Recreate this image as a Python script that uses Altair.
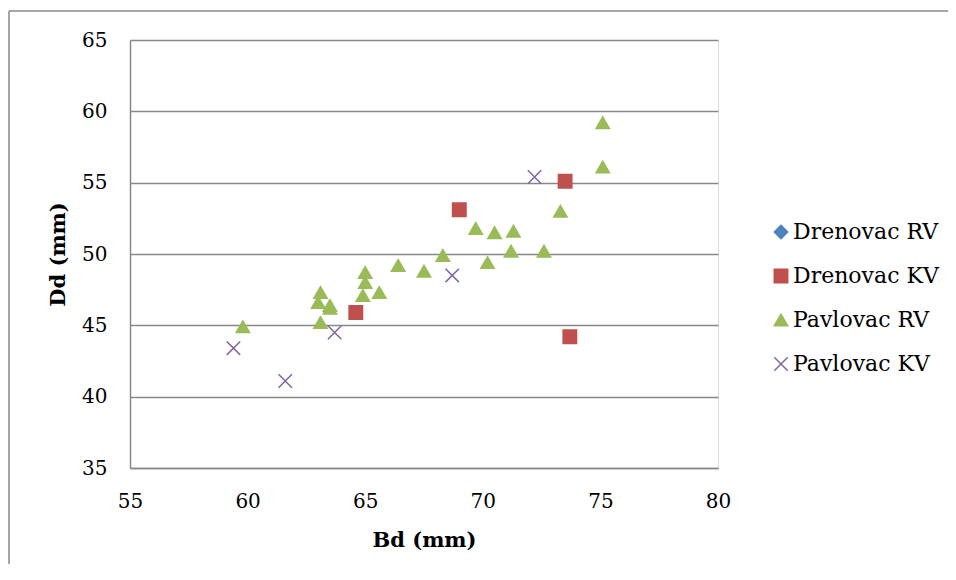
import altair as alt
import pandas as pd

series_names = ["Drenovac RV", "Drenovac KV", "Pavlovac RV", "Pavlovac KV"]
series_colors = ["#4F81BD", "#C0504D", "#9BBB59", "#8064A2"]
series_fills = ["#4F81BD", "#C0504D", "#9BBB59", "transparent"]
series_shapes = ["diamond", "square", "triangle-up", "M-1,-1L1,1M-1,1L1,-1"]

drenovac_rv_bd = []
drenovac_rv_dd = []

drenovac_kv_bd = [64.6, 69.0, 73.5, 73.7]
drenovac_kv_dd = [45.9, 53.1, 55.1, 44.2]

pavlovac_rv_bd = [59.8, 63.1, 63.0, 63.5, 63.5, 63.1, 65.0, 65.0, 64.9, 65.6,
                  66.4, 67.5, 68.3, 69.7, 70.5, 71.3, 71.2, 72.6, 70.2, 73.3,
                  75.1, 75.1]
pavlovac_rv_dd = [44.9, 47.3, 46.6, 46.4, 46.2, 45.2, 48.7, 48.0, 47.1, 47.3,
                  49.2, 48.8, 49.9, 51.8, 51.5, 51.6, 50.2, 50.2, 49.4, 53.0,
                  59.2, 56.1]

pavlovac_kv_bd = [59.4, 61.6, 63.7, 68.7, 72.2]
pavlovac_kv_dd = [43.4, 41.1, 44.5, 48.5, 55.4]

x_ticks = [55, 60, 65, 70, 75, 80]
y_ticks = [35, 40, 45, 50, 55, 60, 65]

rows = []
for name, bd, dd in [
    ("Drenovac RV", drenovac_rv_bd, drenovac_rv_dd),
    ("Drenovac KV", drenovac_kv_bd, drenovac_kv_dd),
    ("Pavlovac RV", pavlovac_rv_bd, pavlovac_rv_dd),
    ("Pavlovac KV", pavlovac_kv_bd, pavlovac_kv_dd),
]:
    for b, d in zip(bd, dd):
        rows.append({"series": name, "Bd": b, "Dd": d})
df = pd.DataFrame(rows)

FONT = "DejaVu Serif"
GRID = "#898989"

legend = alt.Legend(
    title=None, orient="none", legendX=640, legendY=181,
    labelFont=FONT, labelFontSize=22, labelColor="black",
    symbolSize=180, symbolStrokeWidth=1.5, rowPadding=22,
    labelOffset=1, padding=0, labelLimit=300,
)

points = alt.Chart(df).mark_point(filled=False, size=180, strokeWidth=1.5, opacity=1).encode(
    x=alt.X("Bd:Q", scale=alt.Scale(domain=[55, 80], nice=False, zero=False),
            axis=alt.Axis(values=x_ticks, grid=False, ticks=False, domain=True,
                          domainColor=GRID, domainWidth=1.5,
                          labelFont=FONT, labelFontSize=20, labelColor="black",
                          labelPadding=23, labelFlush=False, labelOverlap=False,
                          title="Bd (mm)", titleFont=FONT, titleFontSize=21,
                          titleFontWeight="bold", titleColor="black",
                          titleY=72, titleBaseline="middle")),
    y=alt.Y("Dd:Q", scale=alt.Scale(domain=[35, 65], nice=False, zero=False),
            axis=alt.Axis(values=y_ticks, grid=True, gridColor=GRID, gridWidth=1.5,
                          ticks=False, domain=True, domainColor=GRID, domainWidth=1.5,
                          labelFont=FONT, labelFontSize=20, labelColor="black",
                          labelPadding=23, labelFlush=False, labelOverlap=False,
                          title="Dd (mm)", titleFont=FONT, titleFontSize=21,
                          titleFontWeight="bold", titleColor="black",
                          titleX=-72, titleY=214, titleBaseline="middle")),
    fill=alt.Fill("series:N", scale=alt.Scale(domain=series_names, range=series_fills), legend=legend),
    stroke=alt.Stroke("series:N", scale=alt.Scale(domain=series_names, range=series_colors), legend=legend),
    shape=alt.Shape("series:N", scale=alt.Scale(domain=series_names, range=series_shapes), legend=legend),
)

one = pd.DataFrame({"a": [0]})
top_border = alt.Chart(one).mark_rule(color=GRID, strokeWidth=1.5).encode(
    x=alt.value(-121), x2=alt.value(818), y=alt.value(-29))
left_border = alt.Chart(one).mark_rule(color=GRID, strokeWidth=1.5).encode(
    x=alt.value(-121), y=alt.value(-29), y2=alt.value(524))

chart = alt.layer(top_border, left_border, points).properties(
    width=588, height=428,
    autosize=alt.AutoSizeParams(type="none"),
    padding={"left": 122, "top": 32, "right": 230, "bottom": 96},
).configure_view(stroke=None).configure(background="white")

chart.save("out.html", embed_options={"renderer": "svg", "actions": False})
